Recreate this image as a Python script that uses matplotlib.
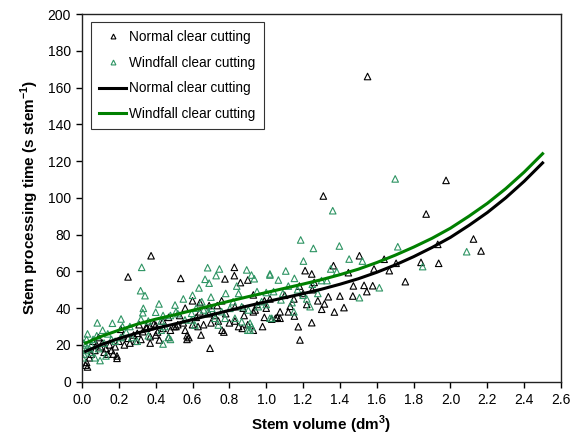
import matplotlib
matplotlib.use("Agg")
import matplotlib.pyplot as plt
from matplotlib.lines import Line2D

plt.rcParams['font.family'] = ['Liberation Sans', 'DejaVu Sans']
plt.rcParams['mathtext.fontset'] = 'custom'
plt.rcParams['mathtext.rm'] = 'Liberation Sans'
plt.rcParams['mathtext.bf'] = 'Liberation Sans:bold'

# ---- data: Normal clear cutting (observations) ----
normal_pts = [
    (0.02, 9), (0.03, 8), (0.025, 10.5), (0.04, 13), (0.05, 15), (0.07, 17), (0.08, 20), (0.10, 19),
    (0.12, 16), (0.14, 15), (0.16, 17), (0.17, 15), (0.19, 14), (0.19, 12.7), (0.13, 18), (0.15, 20),
    (0.18, 19), (0.20, 22), (0.21, 28.5), (0.22, 24.5), (0.25, 23.6), (0.28, 25.4), (0.30, 26.3),
    (0.33, 27.2), (0.35, 29), (0.37, 30), (0.40, 30.8), (0.44, 29), (0.48, 28), (0.51, 30), (0.31, 31),
    (0.35, 30), (0.39, 31.5), (0.41, 27), (0.37, 24.5), (0.40, 25.4), (0.37, 21), (0.42, 22.7),
    (0.47, 24.1), (0.06, 22), (0.09, 24), (0.11, 21), (0.23, 20), (0.26, 21), (0.29, 22), (0.32, 23),
    (0.25, 57), (0.375, 68.5), (0.536, 56.2), (0.827, 62.2), (0.827, 57.7), (0.776, 55.9), (0.86, 53.9),
    (0.90, 55.3), (0.695, 18.2), (0.646, 25.4),
    (0.56, 40), (0.60, 44), (0.64, 43), (0.69, 41.4), (0.734, 41.4), (0.758, 44), (0.64, 38), (0.69, 37),
    (0.83, 40.8), (0.875, 40), (0.93, 38), (0.93, 47.2), (0.99, 44), (1.02, 45), (1.03, 34), (1.06, 35),
    (0.99, 35), (0.80, 32), (0.83, 33), (0.74, 33), (0.70, 32), (0.66, 31), (0.63, 30), (0.60, 31),
    (0.55, 32), (0.52, 31), (0.50, 30), (0.56, 28), (0.57, 25), (0.58, 24), (0.57, 23), (0.76, 28),
    (0.77, 27), (0.85, 30), (0.87, 29), (0.90, 31), (0.93, 28), (0.98, 30), (0.94, 39), (1.075, 38),
    (1.05, 34.5), (0.44, 33), (0.47, 35), (0.53, 36), (0.62, 35), (0.72, 36), (0.78, 37), (0.88, 36),
    (0.95, 42), (1.00, 40),
    (1.075, 34.5), (1.12, 38), (1.153, 35.7), (1.174, 29.9), (1.183, 22.7), (1.247, 32.1), (1.301, 39.4),
    (1.316, 42.3), (1.337, 46.2), (1.37, 37.9), (1.40, 46.6), (1.422, 40.3), (1.47, 46.6), (1.546, 49),
    (1.473, 52.1), (1.531, 52.4), (1.578, 52.2), (1.211, 60.4), (1.247, 58.6), (1.365, 63.1),
    (1.446, 59.3), (1.506, 68.5), (1.585, 61.3), (1.64, 66.6), (1.668, 60.4), (1.705, 64.4),
    (1.755, 54.4), (1.84, 64.9), (1.936, 64.4), (1.931, 74.7), (1.868, 91.2), (1.976, 109.5),
    (1.31, 101), (1.55, 166), (2.125, 77.6), (2.166, 71.1), (1.15, 45), (1.20, 48), (1.25, 50),
    (1.10, 47), (1.18, 52), (1.28, 44), (1.22, 42), (1.13, 41), (1.26, 54),
]

# ---- data: Windfall clear cutting (observations) ----
windfall_pts = [
    (0.005, 13), (0.01, 15), (0.02, 20), (0.025, 23), (0.04, 18), (0.05, 16), (0.06, 23), (0.07, 13),
    (0.098, 11.5), (0.083, 32), (0.112, 28), (0.165, 31.8), (0.212, 34.1), (0.16, 23), (0.18, 22),
    (0.21, 24), (0.27, 24), (0.30, 22), (0.36, 25), (0.44, 20.5), (0.48, 23), (0.43, 28), (0.03, 26),
    (0.08, 25), (0.12, 21), (0.14, 26), (0.02, 17), (0.01, 21), (0.05, 20), (0.09, 18), (0.13, 14),
    (0.24, 27), (0.26, 30), (0.32, 34), (0.36, 33), (0.22, 30),
    (0.324, 62.2), (0.318, 49.5), (0.342, 46.8), (0.333, 39.9), (0.33, 37.5), (0.418, 42.3),
    (0.40, 37.8), (0.44, 36), (0.505, 41.7), (0.48, 36), (0.43, 33), (0.45, 30), (0.52, 37),
    (0.595, 33.6), (0.682, 62), (0.746, 61.3), (0.728, 57.7), (0.668, 55.7), (0.69, 53.6), (0.635, 51),
    (0.894, 60.8), (0.92, 58), (0.935, 56), (1.02, 58), (0.85, 48), (0.84, 52), (0.95, 49), (1.00, 48.5),
    (1.04, 49), (0.51, 38), (0.65, 43.5), (0.66, 39), (0.685, 38), (0.704, 39.9), (0.758, 38.1),
    (0.803, 39.9), (0.82, 43.5), (0.867, 40.8), (0.903, 39), (0.957, 40.8), (0.975, 43.5),
    (0.595, 37.2), (0.559, 33.6), (0.613, 30.8), (0.722, 34.5), (0.776, 34.5), (0.83, 34.5),
    (0.867, 32.6), (0.912, 31.8), (0.912, 28.1), (0.74, 30.8), (1.03, 34.5), (0.92, 30), (0.90, 28),
    (1.00, 42), (1.08, 44.5), (0.469, 24.1), (0.55, 45), (0.60, 47), (0.70, 46), (0.78, 48), (0.62, 40),
    (1.02, 58.6), (1.066, 55.3), (1.106, 60.2), (1.153, 56.2), (1.187, 77.1), (1.256, 72.5),
    (1.202, 65.6), (1.35, 61.3), (1.383, 59.8), (1.361, 93), (1.397, 73.8), (1.45, 66.7),
    (1.522, 65.6), (1.614, 51.1), (1.506, 45.7), (1.714, 73.4), (1.70, 110.3), (1.849, 62.6),
    (2.088, 70.7), (1.238, 40.8), (1.15, 38), (1.02, 34.5), (1.12, 52), (1.17, 50), (1.20, 47),
    (1.25, 53), (1.30, 55), (1.33, 55), (1.22, 45), (1.28, 48), (1.09, 48), (1.14, 43),
]

# ---- data: fitted curves ----
curve_x = [0.02, 0.1, 0.2, 0.3, 0.4, 0.5, 0.6, 0.7, 0.8, 0.9, 1.0, 1.1, 1.2, 1.3, 1.4,
           1.5, 1.6, 1.7, 1.8, 1.9, 2.0, 2.1, 2.2, 2.3, 2.4, 2.5]
normal_fit = [16.5, 20, 23.5, 26.5, 29, 31.3, 33.8, 36.3, 38.8, 41.2, 43.5, 45.7, 47.9, 50.3, 53,
              56, 59.5, 63.5, 68, 73, 78.5, 85, 92, 100, 109, 119]
windfall_fit = [21, 24.5, 28, 31.3, 34, 36.3, 38.8, 41.3, 43.8, 46.2, 48.5, 50.8, 53.1, 55.5, 58.2,
                61.2, 64.8, 68.8, 73.2, 78, 83.5, 90, 97, 105, 114, 124]

x_ticks = [0.0, 0.2, 0.4, 0.6, 0.8, 1.0, 1.2, 1.4, 1.6, 1.8, 2.0, 2.2, 2.4, 2.6]
y_ticks = [0, 20, 40, 60, 80, 100, 120, 140, 160, 180, 200]

black = '#000000'
green_pt = '#2e9463'
green_ln = '#008000'

fig = plt.figure(figsize=(5.71, 4.46), dpi=100)
ax = fig.add_axes([0.1436, 0.1442, 0.8389, 0.8244])

nx = [p[0] for p in normal_pts]
ny = [p[1] for p in normal_pts]
wx = [p[0] for p in windfall_pts]
wy = [p[1] for p in windfall_pts]

ax.scatter(nx, ny, marker='^', s=22, facecolors='none', edgecolors=black, linewidths=0.8, zorder=2)
ax.scatter(wx, wy, marker='^', s=22, facecolors='none', edgecolors=green_pt, linewidths=0.8, zorder=2)
ax.plot(curve_x, normal_fit, color=black, lw=2.2, zorder=3)
ax.plot(curve_x, windfall_fit, color=green_ln, lw=2.2, zorder=3)

ax.set_xlim(0, 2.6)
ax.set_ylim(0, 200)
ax.set_xticks(x_ticks)
ax.set_xticklabels([f'{v:.1f}' for v in x_ticks])
ax.set_yticks(y_ticks)
ax.tick_params(direction='out', length=4, width=1, labelsize=10, colors='#000000', pad=4)
for s in ax.spines.values():
    s.set_color('#222222')
    s.set_linewidth(1.0)

ax.set_xlabel(r'Stem volume (dm$^\mathbf{3}$)', fontsize=11, fontweight='bold', labelpad=5)
ax.set_ylabel(r'Stem processing time (s stem$^\mathbf{-1}$)', fontsize=11, fontweight='bold', labelpad=5)

handles = [
    Line2D([], [], ls='none', marker='^', markersize=3.5, markerfacecolor='none',
           markeredgecolor=black, markeredgewidth=0.8),
    Line2D([], [], ls='none', marker='^', markersize=3.5, markerfacecolor='none',
           markeredgecolor=green_pt, markeredgewidth=0.8),
    Line2D([], [], color=black, lw=2.2),
    Line2D([], [], color=green_ln, lw=2.2),
]
labels = ['Normal clear cutting', 'Windfall clear cutting', 'Normal clear cutting', 'Windfall clear cutting']
leg = ax.legend(handles, labels, loc='upper left', bbox_to_anchor=(0.019, 0.978), borderaxespad=0,
                fontsize=9.8, frameon=True, fancybox=False, edgecolor='#000000',
                handlelength=2.0, handletextpad=0.2, labelspacing=0.85, borderpad=0.6)
leg.get_frame().set_linewidth(0.8)

fig.savefig('out.png', dpi=100)
